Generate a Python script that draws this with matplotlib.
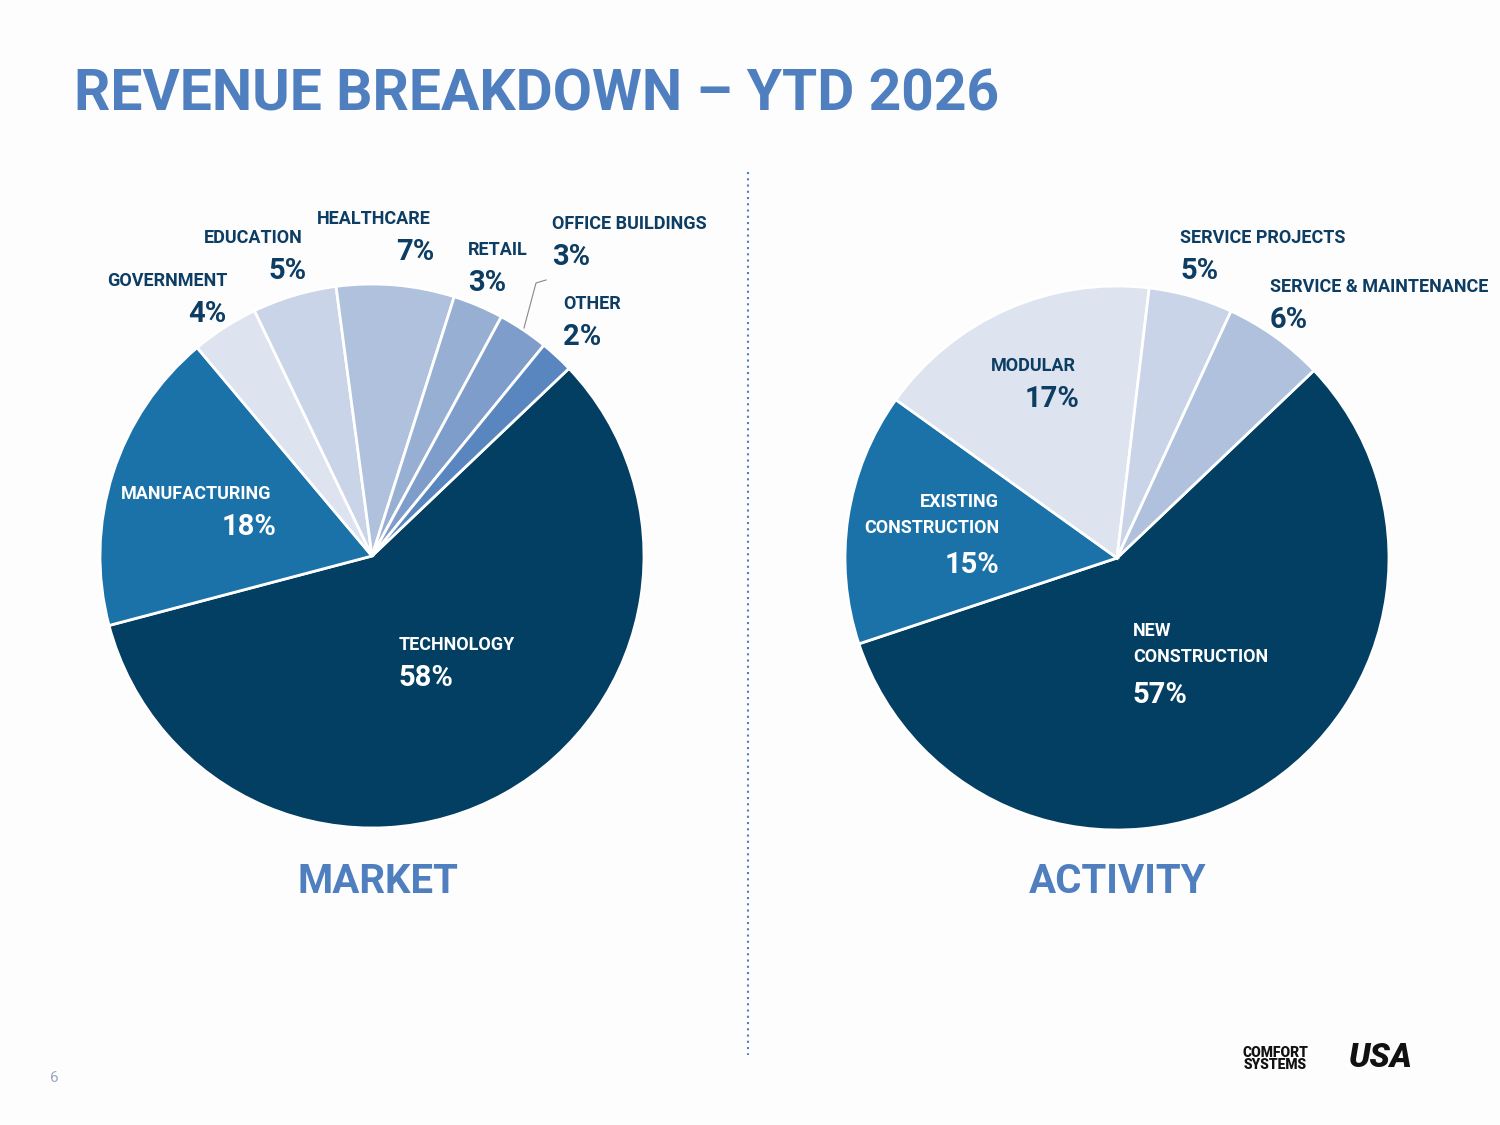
import matplotlib
matplotlib.use("Agg")
import matplotlib.pyplot as plt
from matplotlib.lines import Line2D

market_labels = ["TECHNOLOGY", "MANUFACTURING", "GOVERNMENT", "EDUCATION", "HEALTHCARE", "RETAIL", "OFFICE BUILDINGS", "OTHER"]
market_values = [58, 18, 4, 5, 7, 3, 3, 2]
market_colors = ["#023f63", "#1a72a9", "#dde3ef", "#c9d4e8", "#b0c1dd", "#98afd4", "#7f9dca", "#5a86bf"]

activity_labels = ["NEW\nCONSTRUCTION", "EXISTING\nCONSTRUCTION", "MODULAR", "SERVICE PROJECTS", "SERVICE & MAINTENANCE"]
activity_values = [57, 15, 17, 5, 6]
activity_colors = ["#023f63", "#1a72a9", "#dde3ef", "#c9d4e8", "#b0c1dd"]

W, H = 1500, 1125
fig = plt.figure(figsize=(15, 11.25), dpi=100)
fig.patch.set_facecolor("#fdfdfd")
FONT = "Roboto"
NAVY = "#0d3d63"
TITLE = "#4f7fbf"

def px(x, y):
    return x / W, 1 - y / H

def pie_axes(cx, cy, r):
    return fig.add_axes([(cx - r) / W, 1 - (cy + r) / H, 2 * r / W, 2 * r / H])

ax1 = pie_axes(372, 556, 272)
ax1.pie(market_values, colors=market_colors, startangle=43.6, counterclock=False,
        wedgeprops=dict(edgecolor="white", linewidth=2))
ax1.set_xlim(-1, 1); ax1.set_ylim(-1, 1)
ax1.set_aspect("equal")

ax2 = pie_axes(1117, 558, 272)
ax2.pie(activity_values, colors=activity_colors, startangle=43.6, counterclock=False,
        wedgeprops=dict(edgecolor="white", linewidth=2))
ax2.set_xlim(-1, 1); ax2.set_ylim(-1, 1)
ax2.set_aspect("equal")

def lab(x, y, name, pct, color=NAVY, ha="left", pct_x=None):
    fig.text(*px(x, y), name, fontsize=13, fontweight="bold", family=FONT, color=color, ha=ha, va="center", linespacing=1.6)
    nlines = name.count("\n") + 1
    fig.text(*px(pct_x if pct_x is not None else x, y + 13 + 26 * (nlines - 1) + 20), pct, fontsize=21, fontweight="bold",
             family=FONT, color=color, ha=ha, va="center")

fig.text(*px(74, 95), "REVENUE BREAKDOWN – YTD 2026", fontsize=41, fontweight="bold", family=FONT, color=TITLE, va="center")

lab(107, 281, "GOVERNMENT", "4%", pct_x=188)
lab(204, 238, "EDUCATION", "5%", pct_x=268)
lab(317, 219, "HEALTHCARE", "7%", pct_x=396)
lab(468, 250, "RETAIL", "3%")
lab(552, 224, "OFFICE BUILDINGS", "3%")
lab(563, 304, "OTHER", "2%")
lab(121, 494, "MANUFACTURING", "18%", color="white", pct_x=222)
lab(399, 645, "TECHNOLOGY", "58%", color="white")
fig.add_artist(Line2D([524 / W, 536 / W, 546 / W], [1 - 328 / H, 1 - 283 / H, 1 - 280 / H],
                      transform=fig.transFigure, color="#888888", lw=0.8))

lab(1180, 238, "SERVICE PROJECTS", "5%")
lab(1270, 287, "SERVICE & MAINTENANCE", "6%")
lab(991, 366, "MODULAR", "17%", pct_x=1025)
fig.text(*px(999, 493), "EXISTING\nCONSTRUCTION", fontsize=13, fontweight="bold", family=FONT, color="white",
         ha="right", va="top", linespacing=1.6)
fig.text(*px(999, 565), "15%", fontsize=21, fontweight="bold", family=FONT, color="white", ha="right", va="center")
fig.text(*px(1133, 622), "NEW\nCONSTRUCTION", fontsize=13, fontweight="bold", family=FONT, color="white",
         ha="left", va="top", linespacing=1.6)
fig.text(*px(1133, 695), "57%", fontsize=21, fontweight="bold", family=FONT, color="white", ha="left", va="center")

fig.text(*px(378, 882), "MARKET", fontsize=29, fontweight="bold", family=FONT, color=TITLE, ha="center", va="center")
fig.text(*px(1118, 882), "ACTIVITY", fontsize=29, fontweight="bold", family=FONT, color=TITLE, ha="center", va="center")

fig.add_artist(Line2D([748 / W, 748 / W], [1 - 172 / H, 1 - 1055 / H], transform=fig.transFigure,
                      color="#4f7fbf", lw=1.5, linestyle=(0, (1, 2))))

fig.text(*px(54, 1078), "6", fontsize=11, family=FONT, color="#9aa8c0", ha="center", va="center")
fig.text(*px(1275, 1059), "COMFORT\nSYSTEMS", fontsize=10, fontweight="black", family=FONT, color="#111111",
         ha="center", va="center", linespacing=0.9)
fig.text(*px(1380, 1058), "USA", fontsize=24, fontweight="black", family=FONT, color="#111111",
         ha="center", va="center", style="italic")

fig.savefig("out.png", dpi=100, facecolor=fig.get_facecolor())
